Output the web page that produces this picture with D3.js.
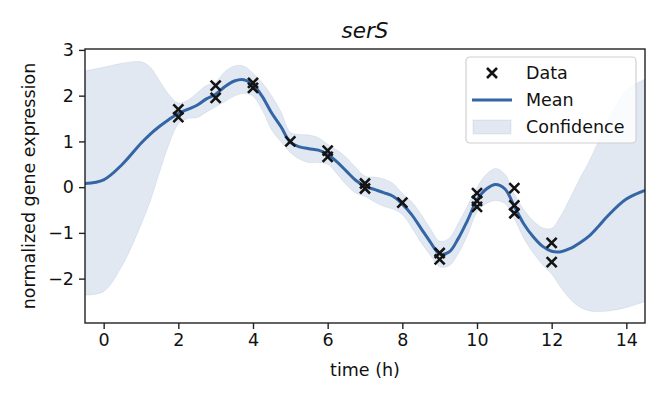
<!DOCTYPE html>
<html>
<head>
<meta charset="utf-8">
<script src="https://cdn.jsdelivr.net/npm/d3@7"></script>
<style>
    body { margin: 0; background: #fff; }
    svg { font-family: "DejaVu Sans", sans-serif; }
</style>
</head>
<body>
<svg id="gp-chart"></svg>
<script>
const width = 666, height = 400
const margin = {
    top: 49,
    bottom: 77,
    left: 85,
    right: 21,
}

// observed replicates
const obsTime = [2, 2, 3, 3, 4, 4, 5, 6, 6, 7, 7, 8, 9, 9, 10, 10, 10, 11, 11, 11, 12, 12]
const obsValue = [1.70, 1.53, 2.22, 1.95, 2.28, 2.17, 1.00, 0.80, 0.66, 0.08, -0.03, -0.34,
    -1.44, -1.58, -0.13, -0.30, -0.43, -0.02, -0.40, -0.57, -1.22, -1.64]

// posterior mean and confidence band
const gridTime = [-0.5, 0, 0.5, 1, 1.25, 1.5, 1.75, 2, 2.25, 2.5, 2.75, 3, 3.25, 3.5, 3.75, 4,
    4.25, 4.5, 4.75, 5, 5.25, 5.5, 5.75, 6, 6.25, 6.5, 6.75, 7, 7.25, 7.5, 7.75, 8,
    8.25, 8.5, 8.75, 9, 9.25, 9.5, 9.75, 10, 10.25, 10.5, 10.75, 11, 11.25, 11.5, 11.75, 12,
    12.25, 12.5, 12.75, 13, 13.25, 13.5, 14, 14.5]
const meanCurve = [0.08, 0.16, 0.50, 0.96, 1.16, 1.33, 1.48, 1.61, 1.70, 1.79, 1.93, 2.03, 2.20, 2.32, 2.35, 2.24,
    1.98, 1.62, 1.32, 0.98, 0.88, 0.84, 0.81, 0.72, 0.55, 0.35, 0.15, 0.02, -0.05, -0.12, -0.20, -0.37,
    -0.60, -0.90, -1.20, -1.46, -1.42, -1.12, -0.72, -0.28, -0.04, 0.06, -0.04, -0.42, -0.80, -1.08, -1.29, -1.40,
    -1.41, -1.34, -1.22, -1.07, -0.86, -0.63, -0.26, -0.07]
const upperBand = [2.54, 2.62, 2.71, 2.74, 2.62, 2.32, 2.02, 1.84, 1.90, 2.06, 2.22, 2.30, 2.53, 2.65, 2.65, 2.49,
    2.28, 1.99, 1.65, 1.20, 1.15, 1.14, 1.08, 0.94, 0.81, 0.65, 0.43, 0.24, 0.22, 0.18, 0.08, -0.14,
    -0.32, -0.59, -0.91, -1.18, -1.12, -0.79, -0.40, -0.01, 0.28, 0.41, 0.28, -0.15, -0.49, -0.73, -0.89, -0.90,
    -0.62, -0.23, 0.18, 0.56, 1.00, 1.45, 2.11, 2.36]
const lowerBand = [-2.36, -2.28, -1.71, -0.82, -0.30, 0.34, 0.94, 1.38, 1.50, 1.52, 1.64, 1.76, 1.87, 1.99, 2.05, 1.99,
    1.68, 1.25, 0.99, 0.76, 0.61, 0.54, 0.54, 0.50, 0.29, 0.05, -0.13, -0.20, -0.32, -0.42, -0.48, -0.60,
    -0.88, -1.21, -1.49, -1.74, -1.72, -1.45, -1.04, -0.55, -0.36, -0.29, -0.36, -0.69, -1.11, -1.43, -1.69, -1.90,
    -2.20, -2.45, -2.62, -2.70, -2.72, -2.71, -2.63, -2.50]

const xTicks = [0, 2, 4, 6, 8, 10, 12, 14]
const yTicks = [-2, -1, 0, 1, 2, 3]
const legendLabels = ["Data", "Mean", "Confidence"]

const lineColor = "#3465a4"
const markColor = "#141414"

const svg = d3.select("svg#gp-chart")
    .attr("viewBox", [0, 0, width, height])
    .attr("width", width)
    .attr("height", height)

const xScale = d3.scaleLinear()
    .domain([-0.5, 14.5])
    .range([margin.left, width - margin.right])

const yScale = d3.scaleLinear()
    .domain([-2.97, 3.02])
    .range([height - margin.bottom, margin.top])

const grid = gridTime.map((t, i) => ({t, mean: meanCurve[i], hi: upperBand[i], lo: lowerBand[i]}))

svg.append("clipPath").attr("id", "plot-clip")
    .append("rect")
    .attr("x", margin.left)
    .attr("y", margin.top)
    .attr("width", width - margin.left - margin.right)
    .attr("height", height - margin.top - margin.bottom)

const plot = svg.append("g").attr("clip-path", "url(#plot-clip)")

// confidence band
plot.append("path")
    .datum(grid)
    .attr("fill", lineColor)
    .attr("fill-opacity", 0.15)
    .attr("stroke", lineColor)
    .attr("stroke-opacity", 0.1)
    .attr("stroke-width", 1)
    .attr("d", d3.area()
        .curve(d3.curveCatmullRom.alpha(0.5))
        .x(d => xScale(d.t))
        .y0(d => yScale(d.lo))
        .y1(d => yScale(d.hi)))

// mean
plot.append("path")
    .datum(grid)
    .attr("fill", "none")
    .attr("stroke", lineColor)
    .attr("stroke-width", 3)
    .attr("d", d3.line()
        .curve(d3.curveCatmullRom.alpha(0.5))
        .x(d => xScale(d.t))
        .y(d => yScale(d.mean)))

// data crosses
const cross = 5
plot.selectAll("path.obs")
    .data(obsTime.map((t, i) => [t, obsValue[i]]))
    .enter()
    .append("path").classed("obs", true)
    .attr("d", ([t, v]) => {
        const cx = xScale(t), cy = yScale(v)
        return `M${cx - cross},${cy - cross}L${cx + cross},${cy + cross}M${cx - cross},${cy + cross}L${cx + cross},${cy - cross}`
    })
    .attr("stroke", markColor)
    .attr("stroke-width", 2.6)

// axes
const xAxis = svg.append("g")
    .attr("transform", `translate(0, ${height - margin.bottom})`)
    .call(d3.axisBottom(xScale).tickValues(xTicks).tickFormat(d3.format("d")).tickSize(6).tickPadding(5))

const yAxis = svg.append("g")
    .attr("transform", `translate(${margin.left}, 0)`)
    .call(d3.axisLeft(yScale).tickValues(yTicks).tickFormat(d3.format("d")).tickSize(6).tickPadding(5))

for (const ax of [xAxis, yAxis]) {
    ax.select(".domain").remove()
    ax.selectAll("line").attr("stroke", "#222").attr("stroke-width", 1.4)
    ax.selectAll("text")
        .attr("fill", "#111")
        .style("font-size", "17.5px")
        .style("font-family", "DejaVu Sans")
}

// frame
svg.append("rect")
    .attr("x", margin.left)
    .attr("y", margin.top)
    .attr("width", width - margin.left - margin.right)
    .attr("height", height - margin.top - margin.bottom)
    .attr("fill", "none")
    .attr("stroke", "#222")
    .attr("stroke-width", 1.4)

// labels
svg.append("text")
    .attr("x", (margin.left + width - margin.right) / 2)
    .attr("y", 38)
    .attr("text-anchor", "middle")
    .style("font-size", "21.5px")
    .style("font-style", "italic")
    .attr("fill", "#111")
    .text("serS")

svg.append("text")
    .attr("x", (margin.left + width - margin.right) / 2)
    .attr("y", 376)
    .attr("text-anchor", "middle")
    .style("font-size", "17.5px")
    .attr("fill", "#111")
    .text("time (h)")

svg.append("text")
    .attr("transform", `translate(35, ${(margin.top + height - margin.bottom) / 2}) rotate(-90)`)
    .attr("text-anchor", "middle")
    .style("font-size", "17.5px")
    .attr("fill", "#111")
    .text("normalized gene expression")

// legend
const legend = svg.append("g").attr("transform", "translate(466, 57)")
legend.append("rect")
    .attr("width", 170)
    .attr("height", 86)
    .attr("rx", 4)
    .attr("fill", "#fff")
    .attr("fill-opacity", 0.8)
    .attr("stroke", "#d0d0d0")
    .attr("stroke-width", 1.2)

const rowY = [16, 43, 70]
legend.append("path")
    .attr("d", `M${26 - cross},${rowY[0] - cross}L${26 + cross},${rowY[0] + cross}M${26 - cross},${rowY[0] + cross}L${26 + cross},${rowY[0] - cross}`)
    .attr("stroke", markColor)
    .attr("stroke-width", 2.6)
legend.append("line")
    .attr("x1", 6).attr("x2", 46)
    .attr("y1", rowY[1]).attr("y2", rowY[1])
    .attr("stroke", lineColor)
    .attr("stroke-width", 3)
legend.append("rect")
    .attr("x", 7).attr("y", rowY[2] - 7)
    .attr("width", 38).attr("height", 14)
    .attr("fill", lineColor)
    .attr("fill-opacity", 0.15)
    .attr("stroke", lineColor)
    .attr("stroke-opacity", 0.1)

legend.selectAll("text.lbl")
    .data(legendLabels)
    .enter()
    .append("text").classed("lbl", true)
    .attr("x", 60)
    .attr("y", (d, i) => rowY[i])
    .attr("dy", "0.35em")
    .style("font-size", "17.5px")
    .attr("fill", "#111")
    .text(d => d)
</script>
</body>
</html>
